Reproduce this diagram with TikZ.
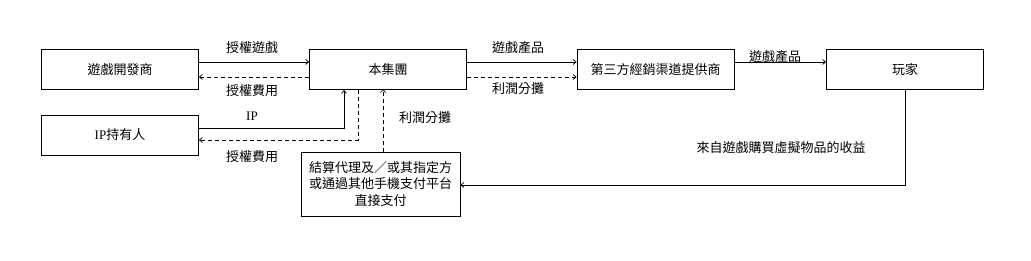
\documentclass[tikz,border=0pt]{standalone}
\usepackage{fontspec}
\setmainfont{Liberation Serif}
\newfontfamily\cjk{Noto Sans CJK TC}
\usetikzlibrary{arrows.meta}
\begin{document}
\begin{tikzpicture}[x=1pt,y=-1pt,
  box/.style={draw,line width=0.8pt,minimum width=157pt,minimum height=40pt,inner sep=0pt,font=\fontsize{13}{16.5}\selectfont\cjk,align=center},
  lbl/.style={font=\fontsize{13}{16}\selectfont\cjk,inner sep=1pt},
  arr/.style={line width=0.7pt,-{Straight Barb[length=3pt,width=5pt]}},
  darr/.style={arr,dash pattern=on 4pt off 3pt}]
\useasboundingbox (0,0) rectangle (1031,261);
\node[box] (dev) at (120,69.5) {遊戲開發商};
\node[box] (grp) at (388,69.5) {本集團};
\node[box] (ip) at (120,135) {{\rmfamily IP}持有人};
\node[box] (dist) at (655.5,69.5) {第三方經銷渠道提供商};
\node[box] (player) at (905,69.5) {玩家};
\node[box,minimum width=159pt,minimum height=64pt] (pay) at (380.5,184) {結算代理及／或其指定方\\或通過其他手機支付平台\\直接支付};
% dev <-> grp
\draw[arr] (dev.east |- 0,62) -- (grp.west |- 0,62);
\draw[darr] (grp.west |- 0,77) -- (dev.east |- 0,77);
\node[lbl] (l1) at (252,48) {授權遊戲};
\node[lbl] (l2) at (252,91) {授權費用};
% ip <-> grp
\coordinate (ipc) at (344,128);
\draw[arr] (ip.east |- ipc) -- (ipc) -- (ipc |- grp.south);
\coordinate (ipd) at (358,140);
\draw[darr] (ipd |- grp.south) -- (ipd) -- (ip.east |- ipd);
\node[lbl,font=\fontsize{13}{16}\selectfont\rmfamily] (l3) at (252,116) {IP};
\node[lbl] (l4) at (252,157) {授權費用};
% pay -> grp
\draw[darr] (383,152) -- (383,89);
\node[lbl] (l5) at (425,118) {利潤分攤};
% grp -> dist
\draw[arr] (grp.east |- 0,62) -- (dist.west |- 0,62);
\draw[darr] (grp.east |- 0,77) -- (dist.west |- 0,77);
\node[lbl] (l6) at (518,48) {遊戲產品};
\node[lbl] (l7) at (518,89) {利潤分攤};
% dist -> player
\draw[arr] (dist.east |- 0,62) -- (player.west |- 0,62);
\node[lbl] (l8) at (775,57) {遊戲產品};
% player -> pay
\coordinate (pc) at (905,185);
\draw[arr] (player.south) -- (pc) -- (pay.east |- pc);
\node[lbl] (l9) at (781,148) {來自遊戲購買虛擬物品的收益};
\end{tikzpicture}
\end{document}
